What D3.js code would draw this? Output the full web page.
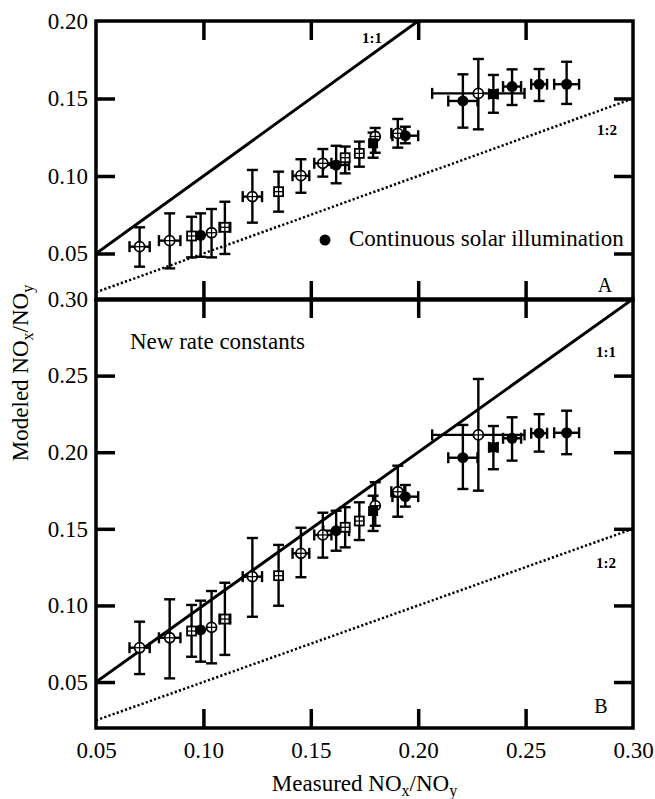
<!DOCTYPE html>
<html lang="en">
<head>
<meta charset="utf-8">
<title>Modeled vs measured NOx/NOy</title>
<script src="https://d3js.org/d3.v7.min.js"></script>
<style>
  body { margin: 0; background: #fff; }
  svg text { font-family: "Liberation Serif", "Times New Roman", Times, serif !important; fill: #000; }
</style>
</head>
<body>
<div id="chart"></div>
<script>
// measured NOx/NOy (shared by both panels)
var measured    = [0.0703, 0.0843, 0.0945, 0.0987, 0.1038, 0.1100, 0.1228, 0.1350, 0.1454, 0.1556, 0.1618,
                   0.1660, 0.1726, 0.1800, 0.1790, 0.1905, 0.1940, 0.2208, 0.2280, 0.2350, 0.2437, 0.2563, 0.2691];
var measuredErr = [0.0047, 0.0050, 0, 0, 0, 0.0025, 0.0045, 0, 0.0039, 0.0040, 0.0060,
                   0, 0, 0, 0, 0.0030, 0.0060, 0.0068, 0.0215, 0.0020, 0.0042, 0.0037, 0.0058];
// cp = open circle with cross, sp = open square with cross, fc = filled circle, fs = filled square
var markerType  = ["cp", "cp", "sp", "fc", "cp", "sp", "cp", "sp", "cp", "cp", "fc",
                   "sp", "sp", "cp", "fs", "cp", "fc", "fc", "cp", "fs", "fc", "fc", "fc"];

// panel A: continuous solar illumination
var modeledA   = [0.0544, 0.0583, 0.0613, 0.0617, 0.0634, 0.0669, 0.0867, 0.0899, 0.1002, 0.1082, 0.1071,
                  0.1118, 0.1146, 0.1255, 0.1211, 0.1275, 0.1260, 0.1484, 0.1533, 0.1529, 0.1577, 0.1592, 0.1592];
var modeledALo = [0.0415, 0.0404, 0.0475, 0.0479, 0.0475, 0.0497, 0.0699, 0.0770, 0.0892, 0.0996, 0.0953,
                  0.1017, 0.1060, 0.1150, 0.1118, 0.1183, 0.1211, 0.1312, 0.1301, 0.1408, 0.1458, 0.1484, 0.1465];
var modeledAHi = [0.0669, 0.0759, 0.0737, 0.0759, 0.0787, 0.0834, 0.1039, 0.1028, 0.1108, 0.1174, 0.1195,
                  0.1190, 0.1222, 0.1310, 0.1280, 0.1368, 0.1318, 0.1656, 0.1755, 0.1652, 0.1688, 0.1690, 0.1737];

// panel B: new rate constants
var modeledB   = [0.0724, 0.0789, 0.0833, 0.0840, 0.0857, 0.0911, 0.1188, 0.1194, 0.1340, 0.1460, 0.1488,
                  0.1510, 0.1551, 0.1651, 0.1616, 0.1742, 0.1710, 0.1964, 0.2113, 0.2032, 0.2091, 0.2124, 0.2127];
var modeledBLo = [0.0552, 0.0524, 0.0665, 0.0633, 0.0622, 0.0677, 0.0926, 0.0998, 0.1184, 0.1312, 0.1357,
                  0.1379, 0.1427, 0.1520, 0.1486, 0.1579, 0.1645, 0.1760, 0.1749, 0.1889, 0.1945, 0.2004, 0.1987];
var modeledBHi = [0.0894, 0.1040, 0.1003, 0.1031, 0.1094, 0.1148, 0.1440, 0.1395, 0.1507, 0.1605, 0.1618,
                  0.1641, 0.1673, 0.1804, 0.1716, 0.1912, 0.1786, 0.2178, 0.2478, 0.2171, 0.2228, 0.2248, 0.2271];

var xTicks  = [0.05, 0.10, 0.15, 0.20, 0.25, 0.30];
var yTicksA = [0.05, 0.10, 0.15, 0.20];
var yTicksB = [0.05, 0.10, 0.15, 0.20, 0.25, 0.30];

var width = 655, height = 799;
var left = 96, right = 633;
var topA = 21, botA = 300, topB = 299, botB = 728;
var tick = 19, cap = 5.5;
var serif = '"Liberation Serif", "Times New Roman", serif';

var svg = d3.select("#chart").append("svg")
  .attr("width", width).attr("height", height);

var x = d3.scaleLinear().domain([0.05, 0.30]).range([left, right]);
var yA = d3.scaleLinear().domain([0.02, 0.20]).range([botA, topA]);
var yB = d3.scaleLinear().domain([0.02, 0.30]).range([botB, topB]);

var fmt = d3.format(".2f");

function drawPanel(y, yTicks, vals, lo, hi, top, bot, showXLabels) {
  var g = svg.append("g");

  var clipId = "clip" + top;
  svg.append("clipPath").attr("id", clipId)
    .append("rect").attr("x", left).attr("y", top).attr("width", right - left).attr("height", bot - top);

  // 1:1 and 1:2 lines
  var line = d3.line().x(d => x(d[0])).y(d => y(d[1]));
  g.append("path").datum([[0.05, 0.05], [0.30, 0.30]])
    .attr("d", line).attr("clip-path", "url(#" + clipId + ")")
    .attr("fill", "none").attr("stroke", "#000").attr("stroke-width", 3);
  g.append("path").datum([[0.05, 0.025], [0.30, 0.15]])
    .attr("d", line).attr("clip-path", "url(#" + clipId + ")")
    .attr("fill", "none").attr("stroke", "#000").attr("stroke-width", 2.5)
    .attr("stroke-dasharray", "2.2,2.2");

  // axes with inward ticks
  var inner = xTicks.slice(1, -1);
  var bottomAxis = d3.axisBottom(x).tickValues(showXLabels ? xTicks : inner).tickSize(-tick).tickPadding(14)
    .tickFormat(showXLabels ? fmt : "");
  g.append("g").attr("transform", `translate(0,${bot})`)
    .call(bottomAxis)
    .call(a => a.selectAll(".tick").filter(d => d === 0.05 || d === 0.30).select("line").remove());
  g.append("g").attr("transform", `translate(0,${top})`)
    .call(d3.axisTop(x).tickValues(inner).tickSize(-tick).tickFormat(""));
  g.append("g").attr("transform", `translate(${left},0)`)
    .call(d3.axisLeft(y).tickValues(yTicks).tickSize(-tick).tickPadding(8).tickFormat(fmt))
    .call(a => a.selectAll(".tick").filter(d => d === yTicks[yTicks.length - 1]).select("line").remove());
  g.append("g").attr("transform", `translate(${right},0)`)
    .call(d3.axisRight(y).tickValues(yTicks.slice(0, -1)).tickSize(-tick).tickFormat(""));

  g.selectAll(".domain").remove();
  g.selectAll("g").attr("font-family", null).attr("font-size", null);
  g.selectAll(".tick line").attr("stroke", "#000").attr("stroke-width", 3.5);
  g.selectAll(".tick text").style("font-size", "23px").style("font-family", serif);

  g.append("rect").attr("x", left).attr("y", top).attr("width", right - left).attr("height", bot - top)
    .attr("fill", "none").attr("stroke", "#000").attr("stroke-width", 3.5);

  // error bars
  var eb = g.append("g").attr("stroke", "#000").attr("stroke-width", 2.4).attr("fill", "none");
  measured.forEach(function (mx, i) {
    var cx = x(mx), cy = y(vals[i]);
    eb.append("line").attr("x1", cx).attr("x2", cx).attr("y1", y(lo[i])).attr("y2", y(hi[i]));
    eb.append("line").attr("x1", cx - cap).attr("x2", cx + cap).attr("y1", y(lo[i])).attr("y2", y(lo[i]));
    eb.append("line").attr("x1", cx - cap).attr("x2", cx + cap).attr("y1", y(hi[i])).attr("y2", y(hi[i]));
    if (measuredErr[i] > 0) {
      var x0 = x(mx - measuredErr[i]), x1 = x(mx + measuredErr[i]);
      eb.append("line").attr("x1", x0).attr("x2", x1).attr("y1", cy).attr("y2", cy);
      eb.append("line").attr("x1", x0).attr("x2", x0).attr("y1", cy - cap).attr("y2", cy + cap);
      eb.append("line").attr("x1", x1).attr("x2", x1).attr("y1", cy - cap).attr("y2", cy + cap);
    }
  });

  // markers
  var mk = g.append("g");
  measured.forEach(function (mx, i) {
    var cx = x(mx), cy = y(vals[i]), t = markerType[i];
    if (t === "fc") {
      mk.append("circle").attr("cx", cx).attr("cy", cy).attr("r", 5.5).attr("fill", "#000");
    } else if (t === "fs") {
      mk.append("rect").attr("x", cx - 5).attr("y", cy - 5).attr("width", 10).attr("height", 10).attr("fill", "#000");
    } else {
      if (t === "cp") {
        mk.append("circle").attr("cx", cx).attr("cy", cy).attr("r", 5)
          .attr("fill", "#fff").attr("stroke", "#000").attr("stroke-width", 1.8);
      } else {
        mk.append("rect").attr("x", cx - 4.5).attr("y", cy - 4.5).attr("width", 9).attr("height", 9)
          .attr("fill", "#fff").attr("stroke", "#000").attr("stroke-width", 1.8);
      }
      mk.append("line").attr("x1", cx - 5).attr("x2", cx + 5).attr("y1", cy).attr("y2", cy)
        .attr("stroke", "#000").attr("stroke-width", 1.3);
      mk.append("line").attr("x1", cx).attr("x2", cx).attr("y1", cy - 5).attr("y2", cy + 5)
        .attr("stroke", "#000").attr("stroke-width", 1.3);
    }
  });
  return g;
}

drawPanel(yB, yTicksB, modeledB, modeledBLo, modeledBHi, topB, botB, true);
drawPanel(yA, yTicksA, modeledA, modeledALo, modeledAHi, topA, botA, false);

// annotations
function label(txt, tx, ty, size, opts) {
  var t = svg.append("text").attr("x", tx).attr("y", ty)
    .style("font-size", size + "px").style("font-family", serif).text(txt);
  if (opts && opts.anchor) t.attr("text-anchor", opts.anchor);
  if (opts && opts.bold) t.attr("font-weight", "bold");
  return t;
}
label("1:1", 372, 43, 15, {anchor: "middle", bold: true});
label("1:2", 607, 135, 15, {anchor: "middle", bold: true});
label("A", 605, 292, 20, {anchor: "middle"});
label("1:1", 606, 357, 15, {anchor: "middle", bold: true});
label("1:2", 606, 568, 15, {anchor: "middle", bold: true});
label("B", 601, 713, 20, {anchor: "middle"});
label("New rate constants", 130, 349, 23);

svg.append("circle").attr("cx", 325).attr("cy", 240).attr("r", 5.5).attr("fill", "#000");
label("Continuous solar illumination", 349, 246, 23);

// axis titles with subscripts
function ratioTitle(sel, prefix) {
  sel.append("tspan").text(prefix + "NO");
  sel.append("tspan").text("x").style("font-size", "16px").attr("dy", 5);
  sel.append("tspan").text("/NO").attr("dy", -5);
  sel.append("tspan").text("y").style("font-size", "16px").attr("dy", 5);
}
var xt = svg.append("text").attr("x", (left + right) / 2).attr("y", 791)
  .attr("text-anchor", "middle").style("font-size", "23px").style("font-family", serif);
ratioTitle(xt, "Measured ");

var yt = svg.append("text").attr("transform", "translate(28,373) rotate(-90)")
  .attr("text-anchor", "middle").style("font-size", "23px").style("font-family", serif);
ratioTitle(yt, "Modeled ");
</script>
</body>
</html>
